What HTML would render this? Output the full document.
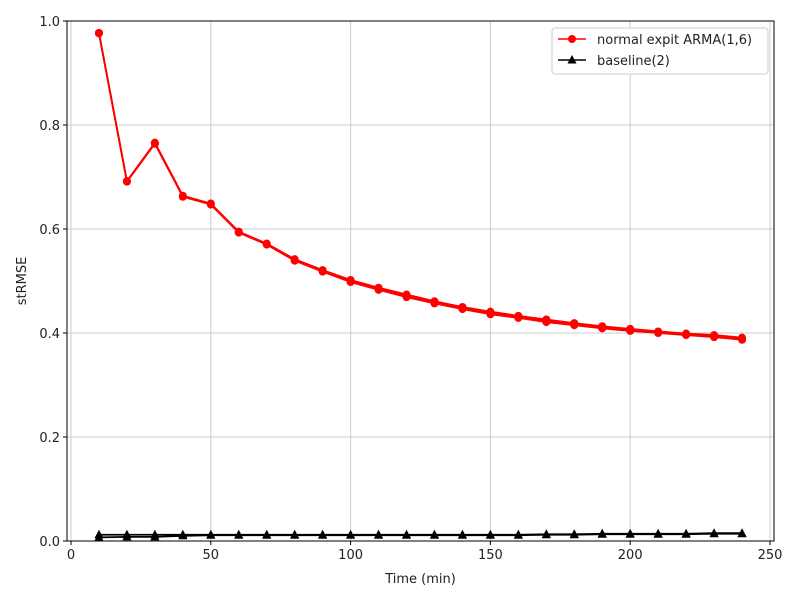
<!DOCTYPE html>
<html><head><meta charset="utf-8"><style>
body{margin:0;background:#fff;font-family:"Liberation Sans","DejaVu Sans",sans-serif;}
svg text{font-family:"DejaVu Sans","Liberation Sans",sans-serif;font-size:13px;fill:#222;}
</style></head><body>
<svg id="chart" width="800" height="600" xmlns="http://www.w3.org/2000/svg"></svg>
<script>
const xs=[10,20,30,40,50,60,70,80,90,100,110,120,130,140,150,160,170,180,190,200,210,220,230,240];
const redMid=[0.977,0.692,0.765,0.663,0.648,0.594,0.571,0.540,0.519,0.499,0.485,0.471,0.459,0.448,0.438,0.431,0.423,0.417,0.411,0.406,0.402,0.398,0.394,0.389];
const redHigh=[0.977,0.692,0.766,0.664,0.649,0.595,0.572,0.542,0.521,0.502,0.487,0.474,0.461,0.450,0.441,0.433,0.426,0.419,0.413,0.408,0.403,0.399,0.396,0.391];
const redLow=[0.976,0.691,0.764,0.662,0.647,0.593,0.570,0.539,0.518,0.498,0.483,0.469,0.457,0.446,0.436,0.429,0.421,0.415,0.409,0.404,0.400,0.396,0.392,0.387];
const blackA=[0.012,0.012,0.012,0.012,0.012,0.012,0.012,0.012,0.012,0.012,0.012,0.012,0.012,0.012,0.012,0.012,0.013,0.013,0.014,0.014,0.014,0.014,0.015,0.015];
const blackB=[0.007,0.008,0.008,0.010,0.011,0.011,0.011,0.011,0.011,0.011,0.011,0.011,0.011,0.011,0.011,0.011,0.012,0.012,0.013,0.013,0.013,0.013,0.014,0.014];
const xTicks=[0,50,100,150,200,250];
const yTicks=[0.0,0.2,0.4,0.6,0.8,1.0];
const L=67,R=774,T=21,B=541;
const X=v=>71+(v)*(770-71)/250;
const Y=v=>B-v*(B-T);
const svg=document.getElementById('chart');
const NS='http://www.w3.org/2000/svg';
function mk(tag,attrs,parent){const e=document.createElementNS(NS,tag);for(const k in attrs)e.setAttribute(k,attrs[k]);(parent||svg).appendChild(e);return e;}
const grid=mk('g',{});


xTicks.forEach(t=>{mk('line',{x1:X(t),x2:X(t),y1:T,y2:B,stroke:'#cccccc','stroke-width':1},grid);
 mk('line',{x1:X(t),x2:X(t),y1:B,y2:B+4,stroke:'#000'});
 const tx=mk('text',{x:X(t),y:B+18,'text-anchor':'middle'});tx.textContent=t;
 
 });
yTicks.forEach(t=>{mk('line',{x1:L,x2:R,y1:Y(t),y2:Y(t),stroke:'#cccccc','stroke-width':1},grid);
 mk('line',{x1:L-4,x2:L,y1:Y(t),y2:Y(t),stroke:'#000'});
 const tx=mk('text',{x:L-7,y:Y(t)+5,'text-anchor':'end'});tx.textContent=t.toFixed(1);
 
 });
function series(vals,color,marker,name){
 const g=mk('g',{});
 
 
 mk('polyline',{points:xs.map((x,i)=>X(x)+','+Y(vals[i])).join(' '),fill:'none',stroke:color,'stroke-width':1.8},g);
 xs.forEach((x,i)=>{const cx=X(x),cy=Y(vals[i]);
  if(marker==='o')mk('circle',{cx,cy,r:4,fill:color},g);
  else mk('polygon',{points:`${cx},${cy-5} ${cx-4.5},${cy+3.5} ${cx+4.5},${cy+3.5}`,fill:color},g);});
}
series(redHigh,'#ff0000','o','red-series-1');
series(redMid,'#ff0000','o','red-series-2');
series(redLow,'#ff0000','o','red-series-3');
series(blackA,'#000000','t','baseline-series-1');
series(blackB,'#000000','t','baseline-series-2');
const frame=mk('rect',{x:L,y:T,width:R-L,height:B-T,fill:'none',stroke:'#000','stroke-width':1});


const xt=mk('text',{x:(L+R)/2,y:583,'text-anchor':'middle'});xt.textContent='Time (min)';


const yt=mk('text',{x:0,y:0,'text-anchor':'middle',transform:`translate(26,${(T+B)/2}) rotate(-90)`});yt.textContent='stRMSE';


const lg=mk('g',{});


mk('rect',{x:552,y:28,width:216,height:46,rx:3,fill:'#fff',stroke:'#cccccc'},lg);
mk('line',{x1:558,x2:586,y1:39,y2:39,stroke:'#ff0000','stroke-width':1.5},lg);
mk('circle',{cx:572,cy:39,r:4,fill:'#ff0000'},lg);
const l1=mk('text',{x:597,y:44},lg);l1.textContent='normal expit ARMA(1,6)';


mk('line',{x1:558,x2:586,y1:60,y2:60,stroke:'#000','stroke-width':1.5},lg);
mk('polygon',{points:'572,55 567.5,63.5 576.5,63.5',fill:'#000'},lg);
const l2=mk('text',{x:597,y:65},lg);l2.textContent='baseline(2)';


</script>
</body></html>
